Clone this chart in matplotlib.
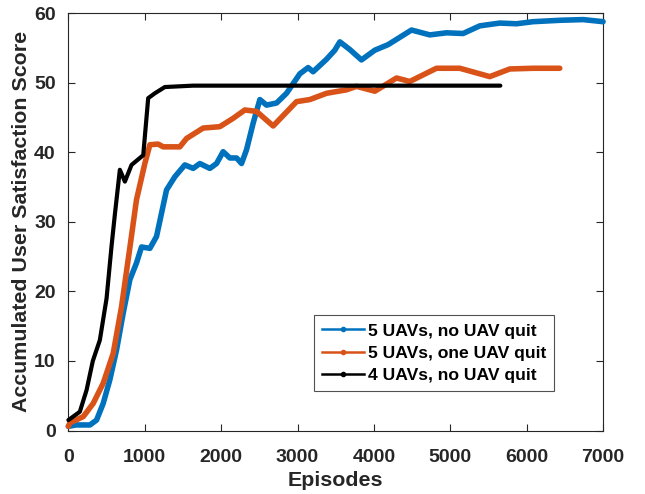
"""Accumulated user satisfaction score over training episodes."""

import matplotlib
matplotlib.use("Agg")
import matplotlib.pyplot as plt
from matplotlib.lines import Line2D

# 5 UAVs, no UAV quit
blue_x = [0, 100, 282, 369, 456, 543, 631, 718, 805, 892, 958, 1067, 1154,
          1285, 1394, 1525, 1634, 1721, 1852, 1940, 2026, 2114, 2202, 2267,
          2333, 2419, 2507, 2594, 2725, 2856, 3030, 3139, 3204, 3380, 3488,
          3554, 3684, 3837, 4012, 4186, 4492, 4732, 4950, 5168, 5386, 5648,
          5866, 6084, 6433, 6738, 7000]
blue_y = [0.6, 0.8, 0.8, 1.5, 3.9, 7.3, 11.6, 16.9, 21.7, 24.1, 26.4, 26.2,
          27.9, 34.6, 36.5, 38.2, 37.7, 38.4, 37.7, 38.4, 40.1, 39.2, 39.2,
          38.4, 40.4, 44.2, 47.6, 46.8, 47.1, 48.5, 51.3, 52.2, 51.6, 53.4,
          54.7, 55.9, 54.8, 53.3, 54.7, 55.5, 57.6, 56.9, 57.2, 57.1, 58.2,
          58.6, 58.5, 58.8, 59.0, 59.1, 58.8]

# 5 UAVs, one UAV quit
orange_x = [0, 20, 195, 325, 456, 587, 696, 805, 892, 1001, 1067, 1175, 1241,
            1459, 1547, 1764, 1983, 2157, 2310, 2463, 2681, 2987, 3161, 3380,
            3641, 3772, 4012, 4296, 4470, 4819, 5124, 5517, 5779, 6084, 6433]
orange_y = [0.6, 1.1, 2.0, 3.9, 6.8, 11.1, 17.8, 26.3, 33.2, 38.4, 41.1, 41.2,
            40.8, 40.8, 42.0, 43.5, 43.7, 44.9, 46.1, 45.9, 43.8, 47.3, 47.6,
            48.5, 49.0, 49.5, 48.8, 50.7, 50.2, 52.1, 52.1, 50.9, 52.0, 52.1,
            52.1]

# 4 UAVs, no UAV quit
black_x = [0, 150, 238, 320, 412, 500, 565, 608, 674, 740, 827, 980, 1045,
           1132, 1263, 1630, 2500, 3500, 4500, 5655]
black_y = [1.5, 2.7, 5.8, 10.0, 13.0, 19.0, 26.5, 31.0, 37.5, 35.8, 38.2,
           39.6, 47.8, 48.5, 49.4, 49.6, 49.6, 49.6, 49.6, 49.6]

labels = ["5 UAVs, no UAV quit", "5 UAVs, one UAV quit", "4 UAVs, no UAV quit"]
colors = ["#0072BD", "#D95319", "#000000"]

plt.rcParams['font.family'] = ['Liberation Sans', 'DejaVu Sans']
plt.rcParams['font.weight'] = 'bold'

fig = plt.figure(figsize=(6.45, 4.94), dpi=100)
ax = fig.add_axes([0.106, 0.1285, 0.829, 0.8445])

series = [(blue_x, blue_y), (orange_x, orange_y), (black_x, black_y)]
widths = [4.0, 4.0, 3.0]
for (xs, ys), color, lw in zip(series, colors, widths):
    ax.plot(xs, ys, color=color, linewidth=lw, solid_joinstyle='round',
            solid_capstyle='round', clip_on=False, zorder=3)

ax.set_xlim(0, 7000)
ax.set_ylim(0, 60)
ax.set_xticks(range(0, 7001, 1000))
ax.set_yticks(range(0, 61, 10))

ax.tick_params(direction='in', length=5, width=0.8, top=True, right=True,
               labelsize=14, colors='#262626')
ax.tick_params(axis='x', pad=13)
ax.tick_params(axis='y', pad=9)
for label in ax.get_xticklabels() + ax.get_yticklabels():
    label.set_fontweight('bold')
for spine in ax.spines.values():
    spine.set_color('#262626')
    spine.set_linewidth(0.8)

ax.set_xlabel('Episodes', fontsize=15.4, fontweight='bold', color='#262626',
              labelpad=4)
ax.set_ylabel('Accumulated User Satisfaction Score', fontsize=15.4,
              fontweight='bold', color='#262626', labelpad=2)

handles = [Line2D([0], [0], color=c, linewidth=1.8, marker='.', markersize=6)
           for c in colors]
leg = ax.legend(handles, labels, loc='lower right',
                bbox_to_anchor=(0.908, 0.095), fontsize=12.6, frameon=True,
                fancybox=False, edgecolor='#262626', handlelength=2.4,
                handletextpad=0.2, borderpad=0.45, labelspacing=0.4,
                borderaxespad=0, numpoints=1)
leg.get_frame().set_linewidth(0.8)
for text in leg.get_texts():
    text.set_fontweight('bold')

fig.savefig('out.png', dpi=100)
